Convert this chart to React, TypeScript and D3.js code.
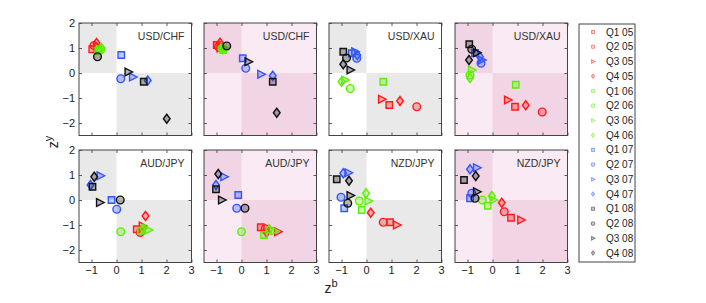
import React, { useEffect, useRef } from "react";
import * as d3 from "d3";

// panel titles, left to right, top row then bottom row
const pairs = ["USD/CHF", "USD/CHF", "USD/XAU", "USD/XAU", "AUD/JPY", "AUD/JPY", "NZD/JPY", "NZD/JPY"];
const quarters = ["Q1", "Q2", "Q3", "Q4"];
const years = ["05", "06", "07", "08"];
const xTicks = [-1, 0, 1, 2, 3];
const yTicks = [-2, -1, 0, 1, 2];

// points in order Q1 05, Q2 05, Q3 05, Q4 05, Q1 06 ... Q4 08  as [z^b, z^y]
const usdChfA = [
  [-0.97, 0.95], [-0.9, 1.1], [-0.77, 1.05], [-0.8, 1.2],
  [-0.73, 0.88], [-0.63, 0.93], [-0.68, 0.95], [-0.6, 1.0],
  [0.19, 0.72], [0.17, -0.23], [0.65, -0.16], [1.25, -0.3],
  [1.09, -0.35], [-0.76, 0.65], [0.47, 0.04], [2.01, -1.83],
];
const usdChfB = [
  [-0.99, 1.12], [-0.92, 1.05], [-0.85, 1.0], [-0.86, 1.21],
  [-0.73, 0.92], [-0.78, 0.98], [-0.7, 1.0], [-0.75, 0.95],
  [0.05, 0.59], [0.17, 0.19], [0.78, -0.05], [1.25, -0.11],
  [1.25, -0.35], [-0.59, 1.08], [0.27, 0.45], [1.41, -1.59],
];
const usdXauA = [
  [0.91, -1.28], [2.01, -1.35], [0.61, -1.05], [1.34, -1.12],
  [0.67, -0.35], [-0.65, -0.62], [-0.86, -0.28], [-1.0, -0.35],
  [-0.59, 0.79], [-0.39, 0.59], [-0.46, 0.85], [-0.37, 0.72],
  [-0.93, 0.85], [-0.8, 0.6], [-0.65, 0.12], [-0.93, 0.35],
];
const usdXauB = [
  [0.9, -1.35], [1.99, -1.56], [0.61, -1.08], [1.33, -1.29],
  [0.93, -0.47], [-0.9, -0.08], [-0.83, 0.12], [-0.9, -0.2],
  [-0.7, 0.8], [-0.46, 0.39], [-0.43, 0.52], [-0.5, 0.65],
  [-0.93, 1.15], [-0.83, 0.95], [-0.63, 0.81], [-0.94, 0.52],
];
const audJpyA = [
  [0.81, -1.17], [0.95, -1.3], [1.04, -1.04], [1.16, -0.64],
  [0.97, -1.23], [0.17, -1.27], [1.28, -1.2], [1.08, -1.13],
  [-0.2, 0.0], [0.01, -0.37], [-0.65, 0.97], [-1.04, 0.6],
  [-0.96, 0.53], [0.15, 0.0], [-0.67, -0.1], [-0.89, 0.93],
];
const audJpyB = [
  [0.77, -1.09], [0.95, -1.15], [1.45, -1.27], [1.0, -1.3],
  [0.9, -1.4], [0.0, -1.27], [1.31, -1.23], [1.11, -1.17],
  [-0.13, 0.2], [-0.19, -0.33], [-0.7, 0.93], [-1.02, 0.6],
  [-1.02, 0.43], [0.14, -0.33], [-0.79, 0.0], [-0.93, 1.04],
];
const nzdJpyA = [
  [0.94, -0.89], [0.67, -0.89], [1.21, -1.0], [0.17, -0.51],
  [-0.19, -0.4], [-0.29, -0.04], [0.07, -0.04], [-0.02, 0.27],
  [-0.89, -0.33], [-1.02, 0.11], [-0.73, 1.09], [-0.93, 1.07],
  [-1.19, 0.83], [-0.75, -0.13], [-0.65, 0.18], [-0.7, 0.77],
];
const nzdJpyB = [
  [0.74, -0.71], [0.47, -0.47], [1.14, -0.8], [0.37, -0.11],
  [-0.19, -0.23], [-0.41, 0.0], [0.03, 0.0], [-0.03, 0.16],
  [-0.9, 0.07], [-0.83, 0.27], [-0.63, 1.29], [-0.9, 1.23],
  [-1.14, 0.8], [-0.7, 0.07], [-0.63, 0.33], [-0.67, 0.96],
];
const panels = [usdChfA, usdChfB, usdXauA, usdXauB, audJpyA, audJpyB, nzdJpyA, nzdJpyB];

const yearColors = ["#ff1a1a", "#5cf000", "#3355ff", "#111111"];
const font = "'Liberation Sans', Arial, Helvetica, sans-serif";

function markerPath(q: number, s: number): string {
  if (q === 0) return `M${-s},${-s}H${s}V${s}H${-s}Z`;
  if (q === 1) return `M${s * 1.2},0A${s * 1.2},${s * 1.2} 0 1 1 ${-s * 1.2},0A${s * 1.2},${s * 1.2} 0 1 1 ${s * 1.2},0Z`;
  if (q === 2) return `M${-s},${-s * 1.2}L${s * 1.35},0L${-s},${s * 1.2}Z`;
  return `M0,${-s * 1.4}L${s * 1.05},0L0,${s * 1.4}L${-s * 1.05},0Z`;
}

const App: React.FC = () => {
  const ref = useRef<SVGSVGElement>(null);

  useEffect(() => {
    document.body.style.margin = "0";
    if (!ref.current) return;
    const svg = d3.select(ref.current);
    svg.selectAll("*").remove();

    const size = 112.5;
    const lefts = [79, 204, 329, 455];
    const tops = [23, 150];

    panels.forEach((pts, p) => {
      const col = p % 4;
      const row = Math.floor(p / 4);
      const x = d3.scaleLinear().domain([-1.5, 3]).range([0, size]);
      const y = d3.scaleLinear().domain([-2.5, 2]).range([size, 0]);
      const g = svg.append("g").attr("transform", `translate(${lefts[col]},${tops[row]})`);
      const pink = col % 2 === 1;
      const dark = pink ? "#f1d5e5" : "#e9e9e9";
      const light = pink ? "#f9eaf3" : "#ffffff";

      g.append("rect").attr("width", size).attr("height", size).attr("fill", light);
      g.append("rect").attr("x", x(-1.5)).attr("y", y(2)).attr("width", x(0) - x(-1.5)).attr("height", y(0) - y(2)).attr("fill", dark);
      g.append("rect").attr("x", x(0)).attr("y", y(0)).attr("width", x(3) - x(0)).attr("height", y(-2.5) - y(0)).attr("fill", dark);

      const tick = 3;
      g.append("g").attr("transform", `translate(0,${size})`)
        .call(d3.axisBottom(x).tickValues(xTicks).tickSize(-tick).tickFormat(() => ""));
      g.append("g").call(d3.axisLeft(y).tickValues(yTicks).tickSize(-tick).tickFormat(() => ""));
      g.append("g").call(d3.axisTop(x).tickValues(xTicks).tickSize(-tick).tickFormat(() => ""));
      g.append("g").attr("transform", `translate(${size},0)`)
        .call(d3.axisRight(y).tickValues(yTicks).tickSize(-tick).tickFormat(() => ""));
      g.selectAll(".domain").remove();
      g.selectAll(".tick line").attr("stroke", "#333").attr("stroke-width", 0.8);

      if (row === 1) {
        xTicks.forEach((t) => {
          g.append("text").attr("x", x(t)).attr("y", size + 11.5).attr("text-anchor", "middle")
            .attr("font-family", font).attr("font-size", 11).attr("fill", "#222")
            .text(t < 0 ? `\u2212${-t}` : `${t}`);
        });
      }
      if (col === 0) {
        yTicks.forEach((t) => {
          g.append("text").attr("x", -4).attr("y", y(t) + 3.8).attr("text-anchor", "end")
            .attr("font-family", font).attr("font-size", 11).attr("fill", "#222")
            .text(t < 0 ? `\u2212${-t}` : `${t}`);
        });
      }

      g.append("text").attr("x", size - 7).attr("y", 17).attr("text-anchor", "end")
        .attr("font-family", font).attr("font-size", 10.5).attr("fill", "#333").text(pairs[p]);

      pts.forEach((d, i) => {
        const yr = Math.floor(i / 4);
        const q = i % 4;
        g.append("path").attr("d", markerPath(q, 3.2))
          .attr("transform", `translate(${x(d[0])},${y(d[1])})`)
          .attr("fill", yearColors[yr]).attr("fill-opacity", 0.3)
          .attr("stroke", yearColors[yr]).attr("stroke-width", 1.4);
      });

      g.append("rect").attr("width", size).attr("height", size).attr("fill", "none")
        .attr("stroke", "#444").attr("stroke-width", 1);
    });

    // legend
    const lg = svg.append("g").attr("transform", "translate(579,24)");
    lg.append("rect").attr("width", 56).attr("height", 238).attr("fill", "#fff").attr("stroke", "#444");
    const ly = d3.scaleLinear().domain([0, 15]).range([8, 229]);
    years.forEach((yrLabel, yr) => {
      quarters.forEach((qLabel, q) => {
        const i = yr * 4 + q;
        lg.append("path").attr("d", markerPath(q, 1.5))
          .attr("transform", `translate(14,${ly(i)})`)
          .attr("fill", yearColors[yr]).attr("fill-opacity", 0.2)
          .attr("stroke", yearColors[yr]).attr("stroke-opacity", 0.45).attr("stroke-width", 1.1);
        lg.append("text").attr("x", 27).attr("y", ly(i) + 3.6)
          .attr("font-family", font).attr("font-size", 10).attr("fill", "#222")
          .text(`${qLabel} ${yrLabel}`);
      });
    });

    // axis labels
    const yl = svg.append("text").attr("transform", "translate(58,142) rotate(-90)")
      .attr("text-anchor", "middle").attr("font-family", font).attr("font-size", 14).attr("fill", "#222");
    yl.append("tspan").text("z");
    yl.append("tspan").attr("dy", -6).attr("font-size", 11).text("y");

    const xl = svg.append("text").attr("x", 331).attr("y", 293)
      .attr("text-anchor", "middle").attr("font-family", font).attr("font-size", 14).attr("fill", "#222");
    xl.append("tspan").text("z");
    xl.append("tspan").attr("dy", -6).attr("font-size", 11).text("b");
  }, []);

  return <svg ref={ref} width={706} height={303} style={{ display: "block", background: "#fff" }} />;
};

export default App;
